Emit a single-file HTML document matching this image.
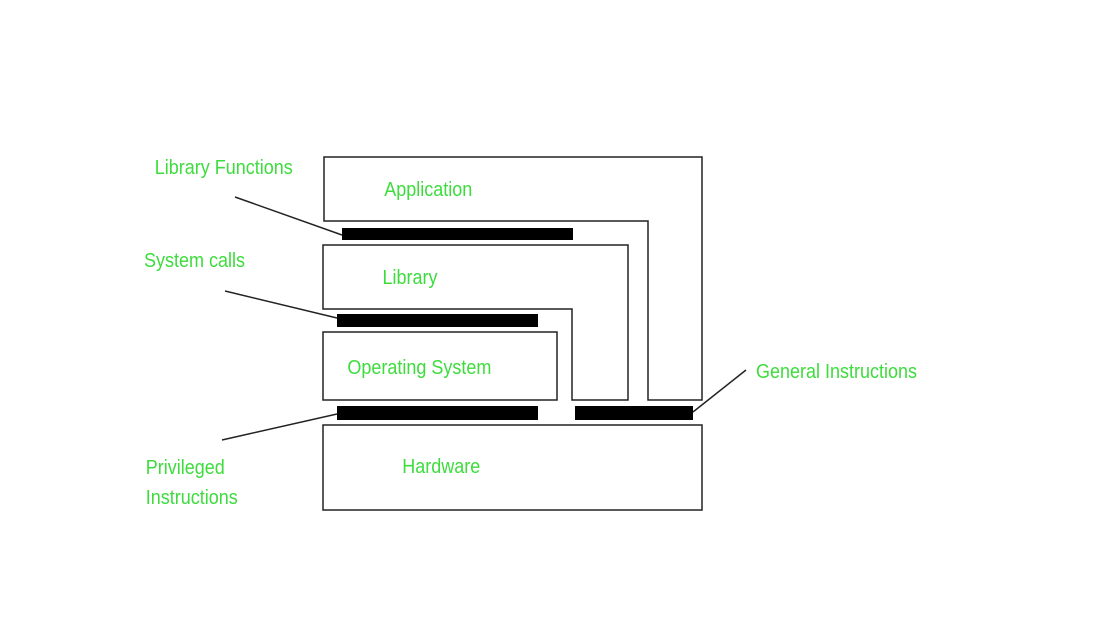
<!DOCTYPE html>
<html><head><meta charset="utf-8"><style>
body{margin:0;background:#fff;}
svg text{font-family:"Liberation Sans",sans-serif;font-size:20px;fill:#3ddc3d;transform-origin:0 0;}
</style></head><body>
<svg width="1100" height="639" viewBox="0 0 1100 639" xmlns="http://www.w3.org/2000/svg">
<g fill="none" stroke="#222" stroke-width="1.5">
<polygon points="324,157 702,157 702,400 648,400 648,221 324,221"/>
<polygon points="323,245 628,245 628,400 572,400 572,309 323,309"/>
<rect x="323" y="332" width="234" height="68"/>
<rect x="323" y="425" width="379" height="85"/>
<line x1="235" y1="197" x2="342" y2="235"/>
<line x1="225" y1="291" x2="337" y2="318"/>
<line x1="222" y1="440" x2="337" y2="414"/>
<line x1="746" y1="370" x2="693" y2="412"/>
</g>
<g fill="#000">
<rect x="342" y="228" width="231" height="12"/>
<rect x="337" y="314" width="201" height="13"/>
<rect x="337" y="406" width="201" height="14"/>
<rect x="575" y="406" width="118" height="14"/>
</g>
<g transform="scale(0.9,1)">
<text x="172" y="174">Library Functions</text>
<text x="160" y="267">System calls</text>
<text x="162" y="474">Privileged</text>
<text x="162" y="504">Instructions</text>
<text x="840" y="378">General Instructions</text>
<text x="427" y="196">Application</text>
<text x="425" y="284">Library</text>
<text x="386" y="374">Operating System</text>
<text x="447" y="473">Hardware</text>
</g>
</svg>
</body></html>
